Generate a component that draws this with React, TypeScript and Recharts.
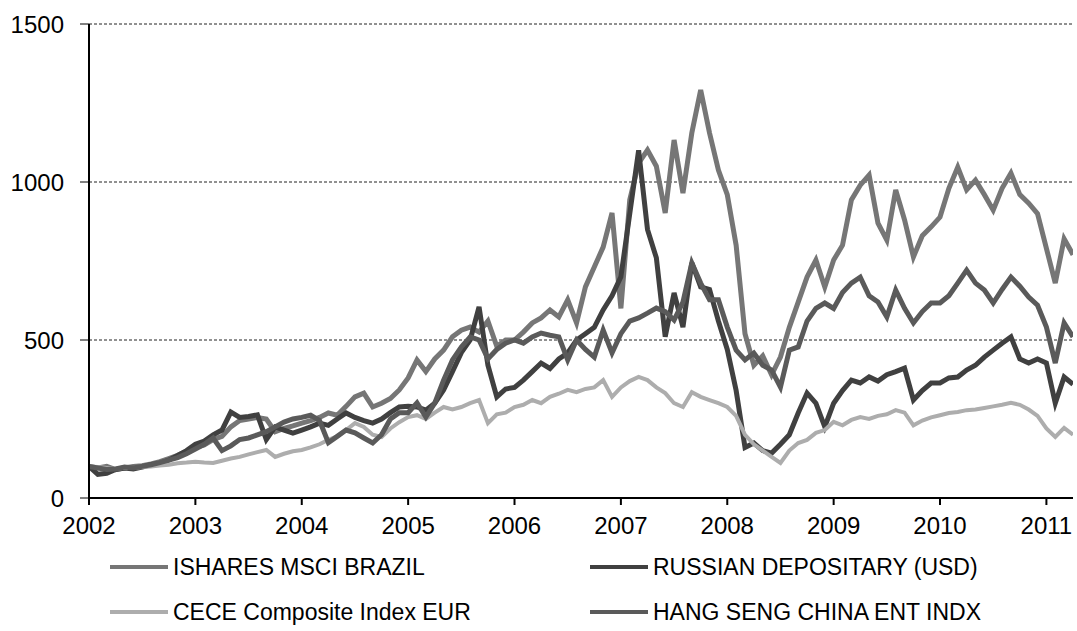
import React from 'react';
import { LineChart, Line, XAxis, YAxis, CartesianGrid } from 'recharts';

const startYear = 2002;

const brazil = [
  100, 95, 100, 90, 95, 100, 102, 108, 115, 125, 135, 148,
  160, 168, 185, 195, 225, 245, 250, 255, 250, 210, 220, 228,
  237, 245, 255, 269, 262, 290, 320, 332, 288, 300, 315, 342,
  380, 437, 400, 440, 468, 510, 531, 541, 525, 560, 480, 500,
  500, 525, 554, 570, 595, 573, 627, 554, 668, 731, 794, 902,
  600, 943, 1060, 1101, 1050, 902, 1133, 965, 1155, 1291, 1155, 1038,
  960, 800, 520, 420, 450, 390, 446, 540, 620, 699, 753, 668,
  753, 800, 943, 990, 1022, 870, 816, 975, 880, 763, 830, 858,
  889, 980, 1047, 975, 1006, 960, 911, 980, 1028, 960, 933, 900,
  790, 680, 820, 770,
];

const russia = [
  100, 75, 78, 90, 95, 92, 98, 105, 110, 120, 135, 150,
  170, 180, 200, 215, 272, 255, 258, 263, 185, 225, 215, 205,
  215, 225, 237, 230, 250, 269, 255, 245, 237, 250, 270, 288,
  290, 288, 278, 300, 342, 400, 460, 500, 605, 420, 320, 345,
  350, 373, 400, 427, 410, 440, 459, 500, 520, 540, 595, 640,
  700, 900, 1100, 850, 760, 510, 649, 541, 744, 668, 660, 560,
  470, 340, 160, 174, 150, 142, 170, 200, 269, 332, 300, 225,
  300, 340, 373, 364, 383, 370, 390, 400, 411, 310, 340, 364,
  364, 380, 383, 405, 420, 446, 468, 490, 510, 440, 427, 440,
  427, 300, 383, 360,
];

const cece = [
  100, 98, 95, 92, 96, 95, 98, 100, 103, 105, 110, 112,
  115, 112, 111, 118, 125, 130, 138, 145, 152, 130, 140, 148,
  152, 160, 170, 184, 195, 215, 237, 225, 200, 193, 220, 240,
  256, 262, 250, 270, 288, 280, 288, 300, 310, 237, 265, 270,
  288, 295, 310, 300, 320, 330, 342, 335, 345, 350, 373, 320,
  350, 370, 383, 373, 350, 332, 300, 288, 335, 320, 310, 300,
  288, 260, 200, 170, 150, 130, 111, 150, 174, 184, 206, 215,
  241, 230, 247, 256, 250, 260, 265, 278, 270, 230, 245, 255,
  262, 269, 272, 278, 280, 285, 290, 295, 301, 295, 280, 260,
  220, 193, 222, 200,
];

const hangSeng = [
  100, 95, 90, 92, 98, 95, 100, 105, 112, 120, 128, 140,
  155, 170, 190, 150, 165, 185, 190, 200, 210, 225, 240, 250,
  255, 262, 245, 175, 195, 215, 206, 190, 174, 200, 250, 270,
  270, 301, 256, 300, 373, 437, 478, 510, 500, 440, 470, 490,
  500, 490, 510, 522, 515, 510, 437, 500, 470, 446, 531, 459,
  520, 560, 570, 585, 601, 590, 563, 620, 744, 680, 627, 627,
  541, 468, 437, 459, 420, 405, 351, 468, 478, 560, 600, 617,
  600, 650, 680, 699, 640, 620, 573, 658, 600, 554, 590, 617,
  617, 640, 680, 721, 680, 658, 617, 660, 699, 670, 636, 610,
  541, 427, 554, 510,
];

const yTicks = [0, 500, 1000, 1500];
const xTicks = [2002, 2003, 2004, 2005, 2006, 2007, 2008, 2009, 2010, 2011];

const seriesNames = [
  'ISHARES MSCI BRAZIL',
  'RUSSIAN DEPOSITARY (USD)',
  'CECE Composite Index EUR',
  'HANG SENG CHINA ENT INDX',
];
const seriesKeys = ['brazil', 'russia', 'cece', 'hangSeng'];
const seriesColors = ['#767676', '#404040', '#adadad', '#5a5a5a'];
const seriesWidths = [5, 5, 4, 5];

const data = brazil.map((v, i) => ({
  t: startYear + i / 12,
  brazil: v,
  russia: russia[i],
  cece: cece[i],
  hangSeng: hangSeng[i],
}));

const font = '"Liberation Sans", Arial, sans-serif';

const legendPos = [
  { x: 110, y: 567 },
  { x: 590, y: 567 },
  { x: 110, y: 612 },
  { x: 590, y: 612 },
];

export default function App() {
  return (
    <div style={{ position: 'relative', width: 1077, height: 631, fontFamily: font, background: '#fff' }}>
      <style>{'html,body{margin:0;padding:0;}'}</style>
      <LineChart
        width={1077}
        height={631}
        data={data}
        margin={{ top: 24, right: 4, bottom: 93, left: 0 }}
      >
        <CartesianGrid
          horizontal={true}
          vertical={false}
          stroke="#222"
          strokeDasharray="3 2"
          strokeWidth={1}
        />
        <XAxis
          type="number"
          dataKey="t"
          domain={[2002, 2011.25]}
          ticks={xTicks}
          allowDataOverflow
          height={40}
          tickSize={7}
          tickMargin={12}
          axisLine={{ stroke: '#000', strokeWidth: 2 }}
          tickLine={{ stroke: '#000', strokeWidth: 2 }}
          tick={{ fill: '#000', fontSize: 24, fontFamily: font }}
        />
        <YAxis
          type="number"
          domain={[0, 1500]}
          ticks={yTicks}
          width={89}
          tickSize={9}
          tickMargin={16}
          axisLine={{ stroke: '#000', strokeWidth: 2 }}
          tickLine={{ stroke: '#000', strokeWidth: 1 }}
          tick={{ fill: '#000', fontSize: 24, fontFamily: font }}
        />
        {seriesKeys.map((k, i) => (
          <Line
            key={k}
            type="linear"
            dataKey={k}
            name={seriesNames[i]}
            stroke={seriesColors[i]}
            strokeWidth={seriesWidths[i]}
            dot={false}
            activeDot={false}
            isAnimationActive={false}
          />
        ))}
      </LineChart>
      {seriesNames.map((name, i) => (
        <div
          key={name}
          style={{
            position: 'absolute',
            left: legendPos[i].x,
            top: legendPos[i].y - 14,
            height: 28,
            display: 'flex',
            alignItems: 'center',
            whiteSpace: 'nowrap',
            fontSize: 23,
            color: '#000',
          }}
        >
          <svg width={58} height={10} style={{ marginRight: 5 }}>
            <line x1={0} y1={5} x2={58} y2={5} stroke={seriesColors[i]} strokeWidth={4} />
          </svg>
          <span>{name}</span>
        </div>
      ))}
    </div>
  );
}
